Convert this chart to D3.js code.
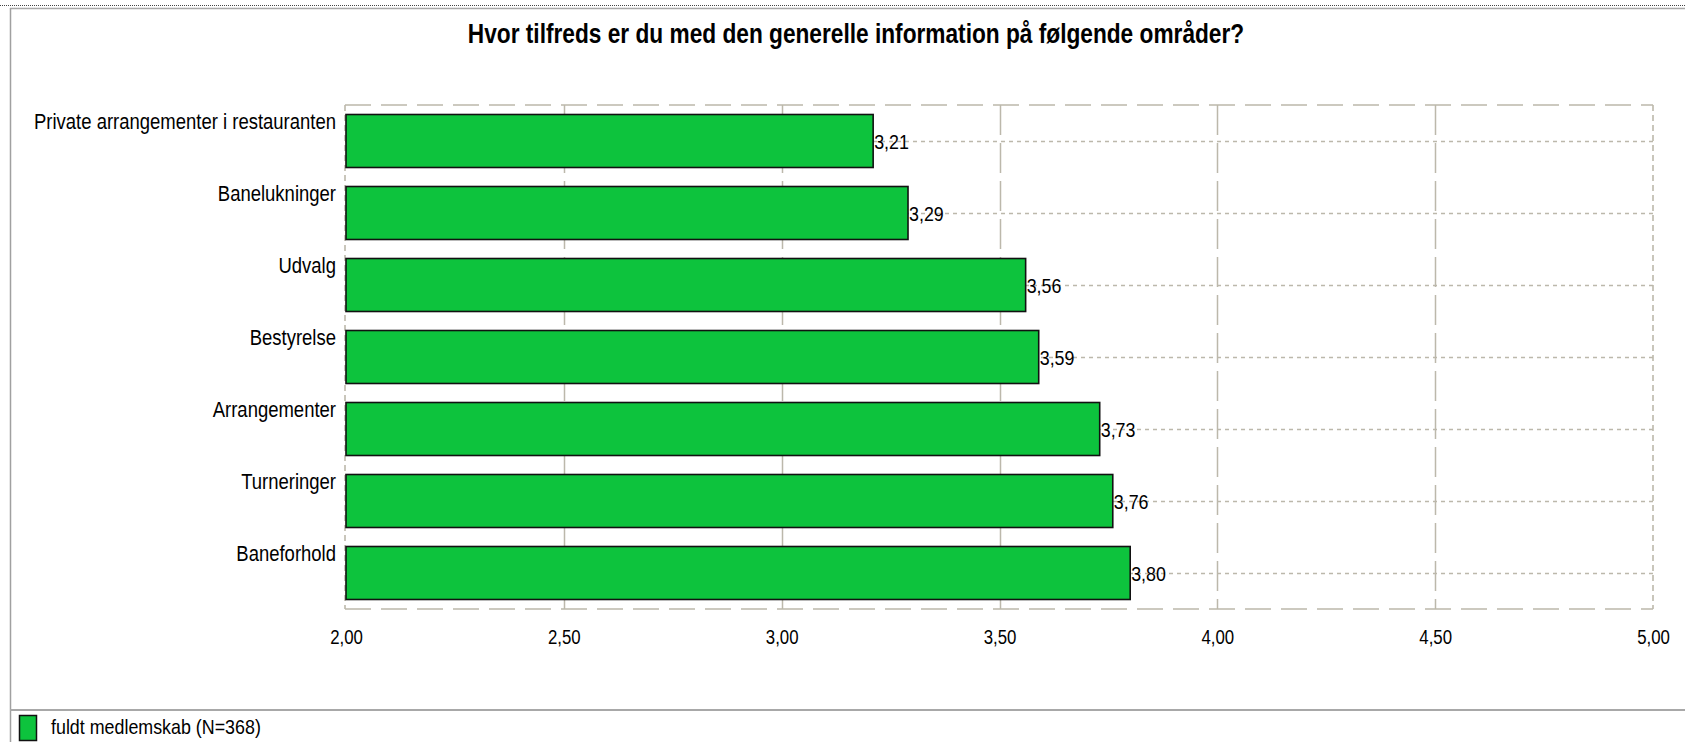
<!DOCTYPE html>
<html>
<head>
<meta charset="utf-8">
<script src="https://cdn.jsdelivr.net/npm/d3@7"></script>
<style>
  body { margin: 0; background: #fff; }
  text { font-family: "Liberation Sans", Arial, sans-serif; fill: #000; }
</style>
</head>
<body>
<div id="viz-container"></div>
<script>
// data
let categories = ["Private arrangementer i restauranten", "Banelukninger", "Udvalg", "Bestyrelse",
                  "Arrangementer", "Turneringer", "Baneforhold"];
let values = [3.21, 3.29, 3.56, 3.59, 3.73, 3.76, 3.80];
let xTicks = [2.00, 2.50, 3.00, 3.50, 4.00, 4.50, 5.00];
let seriesName = "fuldt medlemskab (N=368)";
let title = "Hvor tilfreds er du med den generelle information på følgende områder?";

let W = 1685, H = 742;
let plot = {left: 345, right: 1653, top: 105, bottom: 609};
let gridColor = "#bcb8ab";
let barColor = "#0dc33d";

let viz = d3.select("#viz-container")
            .append("svg")
              .attr("width", W)
              .attr("height", H)
              .style("display", "block");

// danish number format (comma decimals)
let dk = d3.formatLocale({decimal: ",", thousands: ".", grouping: [3], currency: ["", " kr"]});
let fmt = dk.format(".2f");

let x = d3.scaleLinear().domain([2, 5]).range([plot.left + 1, plot.right]);
let y = d3.scaleBand().domain(categories).range([plot.top, plot.bottom])
          .paddingInner(0.264).paddingOuter(0.132);

// squeeze text horizontally (the original font is narrow)
function condense(sel, k){
    sel.each(function(){
        let w = this.getComputedTextLength();
        d3.select(this).attr("textLength", w * k).attr("lengthAdjust", "spacingAndGlyphs");
    });
}

// window chrome lines
viz.append("line").attr("x1", 0).attr("x2", W).attr("y1", 5.5).attr("y2", 5.5)
   .attr("stroke", "#444").attr("stroke-dasharray", "1,1");
viz.append("line").attr("x1", 10).attr("x2", W).attr("y1", 8.5).attr("y2", 8.5)
   .attr("stroke", "#a8a8a8").attr("stroke-width", 1.5);
viz.append("line").attr("x1", 10.5).attr("x2", 10.5).attr("y1", 8).attr("y2", H)
   .attr("stroke", "#a0a0a0").attr("stroke-width", 1.5);
viz.append("line").attr("x1", 10).attr("x2", W).attr("y1", 710).attr("y2", 710)
   .attr("stroke", "#a8a8a8").attr("stroke-width", 2);

// title
viz.append("text")
   .attr("x", 856).attr("y", 43)
   .attr("text-anchor", "middle")
   .style("font-size", "27px").style("font-weight", "bold")
   .text(title)
   .call(condense, 0.84);

// vertical grid (long dashes)
viz.selectAll(".vgrid").data(xTicks.slice(1, -1)).enter().append("line")
   .attr("class", "vgrid")
   .attr("x1", d => Math.round(x(d)) + 0.5).attr("x2", d => Math.round(x(d)) + 0.5)
   .attr("y1", plot.top).attr("y2", plot.bottom)
   .attr("stroke", gridColor).attr("stroke-width", 1.5)
   .attr("stroke-dasharray", "30,8");

// horizontal dotted lines through bar centres
viz.selectAll(".hgrid").data(categories).enter().append("line")
   .attr("class", "hgrid")
   .attr("x1", plot.left).attr("x2", plot.right)
   .attr("y1", d => Math.round(y(d) + y.bandwidth() / 2) + 0.5)
   .attr("y2", d => Math.round(y(d) + y.bandwidth() / 2) + 0.5)
   .attr("stroke", gridColor).attr("stroke-width", 1.6)
   .attr("stroke-dasharray", "4,4");

// plot frame
let frame = viz.append("g").attr("stroke", gridColor).attr("stroke-width", 1.6).attr("fill", "none");
frame.append("line").attr("x1", plot.left).attr("x2", plot.right).attr("y1", plot.top).attr("y2", plot.top)
     .attr("stroke-dasharray", "26,10");
frame.append("line").attr("x1", plot.left).attr("x2", plot.right).attr("y1", plot.bottom).attr("y2", plot.bottom)
     .attr("stroke-dasharray", "26,10");
frame.append("line").attr("x1", plot.left).attr("x2", plot.left).attr("y1", plot.top).attr("y2", plot.bottom)
     .attr("stroke-dasharray", "6,4");
frame.append("line").attr("x1", plot.right).attr("x2", plot.right).attr("y1", plot.top).attr("y2", plot.bottom)
     .attr("stroke-dasharray", "6,4");

// bars
let rows = categories.map((c, i) => ({cat: c, val: values[i]}));

viz.selectAll(".bar").data(rows).enter().append("rect")
   .attr("class", "bar")
   .attr("x", x(2))
   .attr("y", d => y(d.cat))
   .attr("width", d => x(d.val) - x(2))
   .attr("height", y.bandwidth())
   .attr("fill", barColor)
   .attr("stroke", "#111")
   .attr("stroke-width", 1.6);

// value labels
viz.selectAll(".val").data(rows).enter().append("text")
   .attr("class", "val")
   .attr("x", d => x(d.val) + 1)
   .attr("y", d => y(d.cat) + y.bandwidth() / 2 + 8)
   .style("font-size", "21px")
   .text(d => fmt(d.val))
   .call(condense, 0.85);

// category labels (top aligned with the bar)
viz.selectAll(".cat").data(categories).enter().append("text")
   .attr("class", "cat")
   .attr("x", 336)
   .attr("y", d => y(d) + 14)
   .attr("text-anchor", "end")
   .style("font-size", "22px")
   .text(d => d)
   .call(condense, 0.84);

// x axis labels
let xAxis = viz.append("g")
   .attr("transform", "translate(0," + plot.bottom + ")")
   .call(d3.axisBottom(x).tickValues(xTicks).tickFormat(fmt).tickSize(0).tickPadding(21));
xAxis.select(".domain").remove();
xAxis.selectAll("text")
   .attr("fill", "#000")
   .style("font-family", "'Liberation Sans', Arial, sans-serif")
   .style("font-size", "20px")
   .call(condense, 0.84);

// legend
viz.append("rect")
   .attr("x", 19.5).attr("y", 715.5).attr("width", 17).attr("height", 25)
   .attr("fill", barColor).attr("stroke", "#111").attr("stroke-width", 1.5);
viz.append("text")
   .attr("x", 51).attr("y", 734)
   .style("font-size", "21px")
   .text(seriesName)
   .call(condense, 0.85);
</script>
</body>
</html>
